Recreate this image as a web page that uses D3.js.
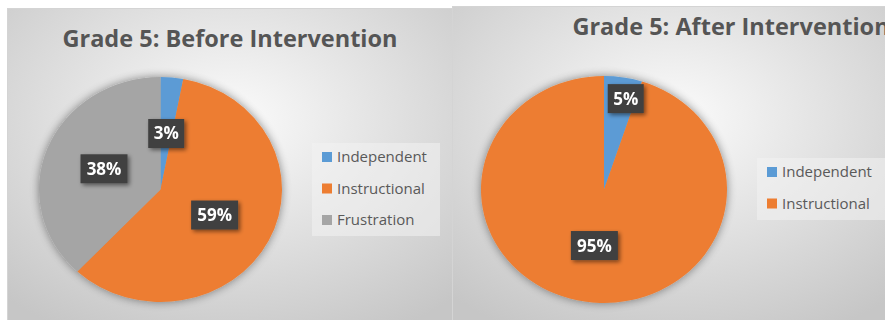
<!DOCTYPE html>
<html><head><meta charset="utf-8">
<script src="https://cdn.jsdelivr.net/npm/d3@7"></script>
<style>
html,body{margin:0;padding:0;background:#fff;}
svg{display:block;font-family:"Open Sans","Noto Sans",sans-serif;}
</style></head>
<body>
<svg id="c" width="885" height="320"></svg>
<script>
// ---- data ----
const categoriesBefore = ["Independent", "Instructional", "Frustration"];
const valuesBefore = [3, 59, 38];
const categoriesAfter = ["Independent", "Instructional"];
const valuesAfter = [5, 95];
const titles = ["Grade 5: Before Intervention", "Grade 5: After Intervention"];
const colorRange = ["#5B9BD5", "#ED7D31", "#A5A5A5"];

const svg = d3.select("#c");
const defs = svg.append("defs");

// background gradient
const g1 = defs.append("radialGradient").attr("id", "bg").attr("cx", "50%").attr("cy", "35%").attr("r", "75%");
g1.append("stop").attr("offset", "0%").attr("stop-color", "#fbfbfb");
g1.append("stop").attr("offset", "100%").attr("stop-color", "#c6c6c6");

const sh = defs.append("filter").attr("id", "pieShadow").attr("x", "-20%").attr("y", "-20%").attr("width", "140%").attr("height", "140%");
sh.append("feGaussianBlur").attr("in", "SourceAlpha").attr("stdDeviation", 5).attr("result", "b");
sh.append("feOffset").attr("in", "b").attr("dx", 0).attr("dy", 0).attr("result", "o");
sh.append("feComponentTransfer").attr("in", "o").attr("result", "o2").append("feFuncA").attr("type", "linear").attr("slope", 0.45);
const m1 = sh.append("feMerge"); m1.append("feMergeNode").attr("in", "o2"); m1.append("feMergeNode").attr("in", "SourceGraphic");

const ls = defs.append("filter").attr("id", "lblShadow").attr("x", "-30%").attr("y", "-30%").attr("width", "170%").attr("height", "170%");
ls.append("feGaussianBlur").attr("in", "SourceAlpha").attr("stdDeviation", 2).attr("result", "b");
ls.append("feOffset").attr("in", "b").attr("dx", 2).attr("dy", 2).attr("result", "o");
ls.append("feComponentTransfer").attr("in", "o").attr("result", "o2").append("feFuncA").attr("type", "linear").attr("slope", 0.5);
const m2 = ls.append("feMerge"); m2.append("feMergeNode").attr("in", "o2"); m2.append("feMergeNode").attr("in", "SourceGraphic");

function drawChart(opt) {
  const { x0, y0, w, h, title, cats, vals, cx, cy, rx, ry, titleX, titleY, legX, legY, legW, legH, labelFrac } = opt;
  const g = svg.append("g");
  g.append("rect").attr("x", x0).attr("y", y0).attr("width", w).attr("height", h)
    .attr("fill", "url(#bg)").attr("stroke", "#d4d4d4").attr("stroke-width", 1);

  g.append("text").attr("x", titleX).attr("y", titleY).attr("text-anchor", "middle")
    .attr("font-size", 23.5).attr("font-weight", 700).attr("fill", "#555555").text(title);

  const color = d3.scaleOrdinal().domain(categoriesBefore).range(colorRange);
  const pie = d3.pie().sort(null).value(d => d.v);
  const data = pie(cats.map((c, i) => ({ c, v: vals[i] })));
  const arc = d3.arc().innerRadius(0).outerRadius(rx);

  const pg = g.append("g").attr("transform", `translate(${cx},${cy}) scale(1,${ry / rx})`).attr("filter", "url(#pieShadow)");
  pg.selectAll("path").data(data).join("path").attr("d", arc).attr("fill", d => color(d.data.c));

  // labels
  const total = d3.sum(vals);
  data.forEach((d, i) => {
    const a = (d.startAngle + d.endAngle) / 2 + (opt.labelAngleShift ? opt.labelAngleShift[i] : 0);
    const f = labelFrac[i];
    const lx = cx + Math.sin(a) * rx * f;
    const ly = cy - Math.cos(a) * ry * f;
    const txt = Math.round(d.data.v / total * 100) + "%";
    const lg = g.append("g").attr("filter", "url(#lblShadow)");
    const bw = txt.length === 2 ? 36 : 47, bh = 29;
    lg.append("rect").attr("x", lx - bw / 2).attr("y", ly - bh / 2).attr("width", bw).attr("height", bh).attr("fill", "#404040");
    lg.append("text").attr("x", lx).attr("y", ly + 6).attr("text-anchor", "middle")
      .attr("font-size", 17).attr("font-weight", 700).attr("fill", "#ffffff").text(txt);
  });

  // legend
  g.append("rect").attr("x", legX).attr("y", legY).attr("width", legW).attr("height", legH).attr("fill", "#f2f2f2").attr("opacity", 0.55);
  const leg = g.selectAll(null).data(cats).join("g")
    .attr("transform", (d, i) => `translate(${legX + 10},${legY + 14 + i * 31.5})`);
  leg.append("rect").attr("x", 0).attr("y", -5).attr("width", 10).attr("height", 10).attr("fill", d => color(d));
  leg.append("text").attr("x", 15).attr("y", 5).attr("font-size", 15).attr("fill", "#595959").text(d => d);
}

drawChart({ x0: 7.5, y0: 8.5, w: 445, h: 320, title: titles[0], cats: categoriesBefore, vals: valuesBefore,
  cx: 160.5, cy: 189.5, rx: 121.5, ry: 112.5, titleX: 230, titleY: 47,
  legX: 312, legY: 143, legW: 128, legH: 93, labelFrac: [0.5, 0.5, 0.5] });

drawChart({ x0: 452.5, y0: 6.5, w: 440, h: 320, title: titles[1], cats: categoriesAfter, vals: valuesAfter,
  cx: 604, cy: 189.5, rx: 123, ry: 113.5, titleX: 731, titleY: 35,
  legX: 757, legY: 158, legW: 135, legH: 62, labelFrac: [0.82, 0.5], labelAngleShift: [0.06, 0] });
</script>
</body></html>
